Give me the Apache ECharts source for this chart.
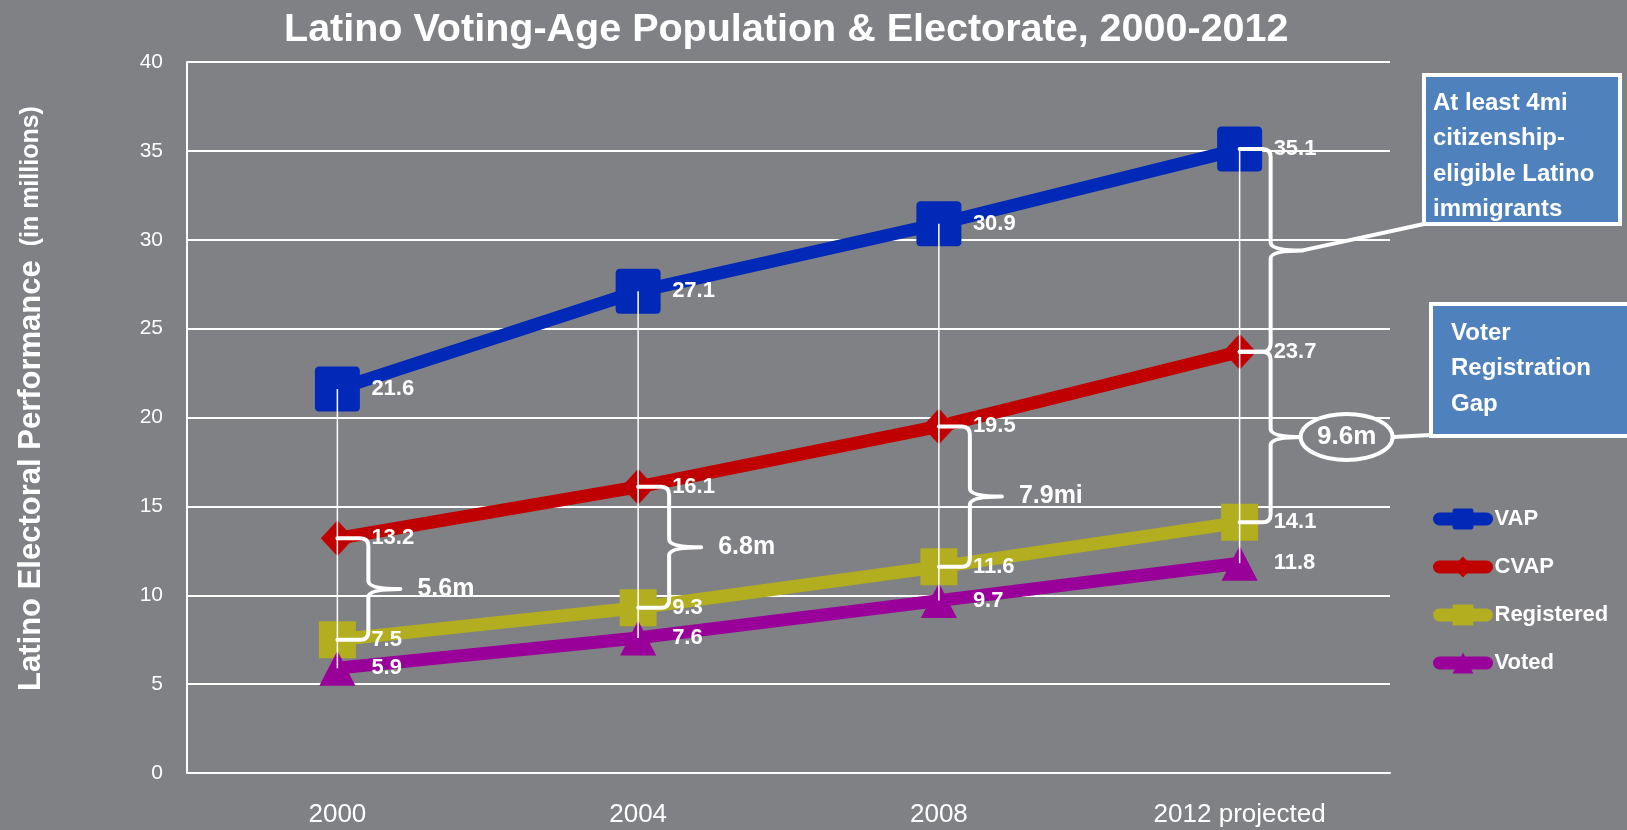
<!DOCTYPE html>
<html><head><meta charset="utf-8">
<script src="https://cdn.jsdelivr.net/npm/echarts@6/dist/echarts.min.js"></script>
<style>html,body{margin:0;padding:0;background:#808184;}#c{width:1627px;height:830px;}</style>
</head><body><div id="c"></div>
<script>
const categories = ['2000', '2004', '2008', '2012 projected'];
const vap = [21.6, 27.1, 30.9, 35.1];
const cvap = [13.2, 16.1, 19.5, 23.7];
const registered = [7.5, 9.3, 11.6, 14.1];
const voted = [5.9, 7.6, 9.7, 11.8];
const gapLabels = ['5.6m', '6.8m', '7.9mi'];
const totalGapLabel = '9.6m';
const calloutImmigrants = ['At least 4mi', 'citizenship-', 'eligible Latino', 'immigrants'];
const calloutGap = ['Voter', 'Registration', 'Gap'];
const titleText = 'Latino Voting-Age Population & Electorate, 2000-2012';

const SANS = '"Liberation Sans",Arial,sans-serif';
const WHITE = '#ffffff';
const BG = '#808184';
const ROUND_SQUARE = 'path://M2,0 H18 Q20,0 20,2 V18 Q20,20 18,20 H2 Q0,20 0,18 V2 Q0,0 2,0 Z';

// brace data: [categoryIndex, topValue, bottomValue]
const braceData = [];
const braceText = [];
for (let i = 0; i < 3; i++) { braceData.push([i, cvap[i], registered[i]]); braceText.push(gapLabels[i]); }
braceData.push([3, vap[3], cvap[3]]); braceText.push('');
braceData.push([3, cvap[3], registered[3]]); braceText.push('');

const dropData = categories.map((c, i) => [i, vap[i], voted[i]]);

const BR_V = 31, BR_T = 63;

function braceItem(params, api) {
  const i = api.value(0);
  const pT = api.coord([i, api.value(1)]);
  const pB = api.coord([i, api.value(2)]);
  const x0 = pT[0], xv = x0 + BR_V, xt = x0 + BR_T;
  const yT = pT[1], yB = pB[1], yM = (yT + yB) / 2;
  const r = 8;
  const d = `M${x0} ${yT} L${xv - r} ${yT} Q${xv} ${yT} ${xv} ${yT + r} L${xv} ${yM - r} Q${xv} ${yM} ${xt} ${yM} Q${xv} ${yM} ${xv} ${yM + r} L${xv} ${yB - r} Q${xv} ${yB} ${xv - r} ${yB} L${x0} ${yB}`;
  const children = [{
    type: 'path', shape: { pathData: d },
    style: { stroke: WHITE, lineWidth: 4, fill: null, lineJoin: 'round', lineCap: 'round' }
  }];
  const t = braceText[params.dataIndex];
  if (t) {
    children.push({ type: 'text', style: { text: t, x: xt + 17, y: yM, verticalAlign: 'middle', align: 'left', fill: WHITE, font: 'bold 25px ' + SANS } });
  }
  return { type: 'group', children };
}

function dropItem(params, api) {
  const i = api.value(0);
  const pT = api.coord([i, api.value(1)]);
  const pB = api.coord([i, api.value(2)]);
  return { type: 'line', shape: { x1: pT[0], y1: pT[1], x2: pB[0], y2: pB[1] }, style: { stroke: WHITE, lineWidth: 1.5 } };
}

const labelCfg = {
  show: true, position: 'inside', align: 'left', offset: [34, 0], color: WHITE,
  fontFamily: SANS, fontWeight: 'bold', fontSize: 22
};

function lineSeries(name, data, color, symbol, size) {
  return {
    name, type: 'line', data, symbol, symbolSize: size, showSymbol: true,
    lineStyle: { color, width: 13 }, itemStyle: { color }, label: labelCfg,
    z: 3, emphasis: { disabled: true }
  };
}

const chart = echarts.init(document.getElementById('c'), null, { renderer: 'canvas' });
const option = {
  backgroundColor: BG,
  animation: false,
  title: {
    text: titleText, left: 279, top: 5,
    textStyle: { color: WHITE, fontFamily: SANS, fontWeight: 'bold', fontSize: 39.5 }
  },
  grid: { left: 187, right: 237, top: 62, bottom: 57, containLabel: false },
  legend: {
    orient: 'vertical', left: 1428, top: 503, itemWidth: 47, itemHeight: 26, itemGap: 26,
    data: ['VAP', 'CVAP', 'Registered', 'Voted'],
    lineStyle: { width: 13, cap: 'round' },
    textStyle: { color: WHITE, fontFamily: SANS, fontWeight: 'bold', fontSize: 22, padding: [0, 0, 0, 3] }
  },
  xAxis: {
    type: 'category', data: categories, boundaryGap: true,
    axisLine: { lineStyle: { color: WHITE, width: 2 } },
    axisTick: { show: false },
    axisLabel: { color: WHITE, fontFamily: SANS, fontSize: 26, margin: 29 },
    splitLine: { show: false }
  },
  yAxis: {
    type: 'value', min: 0, max: 40, interval: 5,
    name: '{a|Latino Electoral Performance}{b|  (in millions)}',
    nameLocation: 'middle', nameRotate: 90, nameGap: 140,
    nameTextStyle: {
      color: WHITE, padding: [0, 0, 0, 38],
      rich: {
        a: { color: WHITE, fontFamily: SANS, fontWeight: 'bold', fontSize: 31 },
        b: { color: WHITE, fontFamily: SANS, fontWeight: 'bold', fontSize: 25 }
      }
    },
    axisLine: { show: true, lineStyle: { color: WHITE, width: 2 } },
    axisTick: { show: false },
    axisLabel: { color: WHITE, fontFamily: SANS, fontSize: 21, margin: 24 },
    splitLine: { show: true, lineStyle: { color: WHITE, width: 2 } }
  },
  series: [
    lineSeries('VAP', vap, '#0029B8', ROUND_SQUARE, 45),
    lineSeries('CVAP', cvap, '#C00000', 'diamond', [33, 36]),
    lineSeries('Registered', registered, '#B2AE1F', 'rect', 37),
    lineSeries('Voted', voted, '#990099', 'triangle', [36, 35]),
    { type: 'custom', name: 'drop', data: dropData, renderItem: dropItem, z: 5, silent: true },
    { type: 'custom', name: 'braces', data: braceData, renderItem: braceItem, z: 6, silent: true }
  ]
};
chart.setOption(option);

// callouts anchored to the 2012 brace tips
const tipUpper = chart.convertToPixel({ gridIndex: 0 }, [3, (vap[3] + cvap[3]) / 2]);
const tipLower = chart.convertToPixel({ gridIndex: 0 }, [3, (cvap[3] + registered[3]) / 2]);
const ux = tipUpper[0] + BR_T, uy = tipUpper[1];
const lx = tipLower[0] + BR_T, ly = tipLower[1];
const ecx = lx + 44, ecy = ly;

function boxText(lines, x, y0, step) {
  return lines.map((s, k) => ({
    type: 'text', z: 20, style: { text: s, x, y: y0 + k * step, verticalAlign: 'middle', fill: WHITE, font: 'bold 24px ' + SANS }
  }));
}

chart.setOption({
  graphic: [
    { type: 'polyline', z: 15, shape: { points: [[ux, uy], [1424, 224]] }, style: { stroke: WHITE, lineWidth: 4, fill: null } },
    { type: 'rect', z: 18, shape: { x: 1424, y: 75, width: 196, height: 149 }, style: { fill: '#4F81BD', stroke: WHITE, lineWidth: 4 } },
    ...boxText(calloutImmigrants, 1433, 103, 35.5),
    { type: 'line', z: 15, shape: { x1: ecx + 46, y1: ecy, x2: 1431, y2: ecy - 2 }, style: { stroke: WHITE, lineWidth: 4 } },
    { type: 'ellipse', z: 16, shape: { cx: ecx, cy: ecy, rx: 46, ry: 23 }, style: { fill: BG, stroke: WHITE, lineWidth: 4 } },
    { type: 'text', z: 17, style: { text: totalGapLabel, x: ecx, y: ecy, align: 'center', verticalAlign: 'middle', fill: WHITE, font: 'bold 26px ' + SANS } },
    { type: 'rect', z: 18, shape: { x: 1431, y: 304, width: 200, height: 132 }, style: { fill: '#4F81BD', stroke: WHITE, lineWidth: 4 } },
    ...boxText(calloutGap, 1451, 333, 35.5)
  ]
});
</script></body></html>
